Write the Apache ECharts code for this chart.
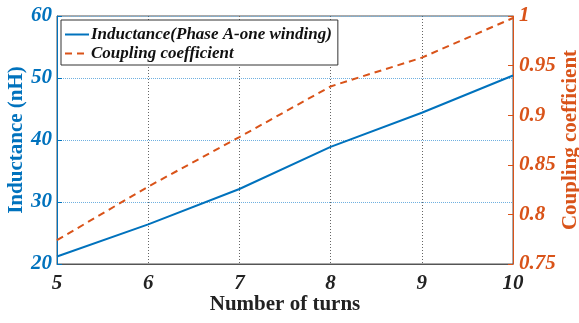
<!DOCTYPE html>
<html>
<head>
<meta charset="utf-8">
<script src="https://cdn.jsdelivr.net/npm/echarts@6/dist/echarts.min.js"></script>
<style>html,body{margin:0;padding:0;background:#fff}#c{width:579px;height:323px}</style>
</head>
<body>
<div id="c"></div>
<script>
const turns = [5, 6, 7, 8, 9, 10];
const inductance = [21.2, 26.4, 32.1, 38.9, 44.4, 50.4];
const coupling = [0.774, 0.828, 0.878, 0.929, 0.958, 0.998];
const seriesNames = ['Inductance(Phase A-one winding)', 'Coupling coefficient'];
const xName = 'Number of turns';
const yLeftName = 'Inductance (nH)';
const yRightName = 'Coupling coefficient';

const BLUE = '#0072BD', ORANGE = '#D95319';
const FONT = '"Liberation Serif", "Times New Roman", serif';

const chart = echarts.init(document.getElementById('c'));
chart.setOption({
  animation: false,
  textStyle: { fontFamily: FONT },
  grid: { left: 57, right: 66, top: 16, bottom: 59, show: true, borderColor: '#555', borderWidth: 1,
          backgroundColor: 'transparent', containLabel: false, outerBoundsMode: 'none' },
  legend: {
    orient: 'vertical', left: 61, top: 20,
    backgroundColor: '#fff', borderColor: '#333', borderWidth: 1,
    padding: [6, 6, 3, 3], itemGap: 2, itemWidth: 24, itemHeight: 14,
    itemStyle: { opacity: 0 },
    textStyle: { fontFamily: FONT, fontSize: 17, fontWeight: 'bold', fontStyle: 'italic', color: '#111', padding: [0, 0, 0, -3] },
    data: seriesNames
  },
  xAxis: {
    type: 'value', min: 5, max: 10, interval: 1,
    name: xName, nameLocation: 'middle', nameGap: 30, nameMoveOverlap: false,
    nameTextStyle: { fontFamily: FONT, fontSize: 21, fontWeight: 'bold', color: '#222' },
    axisLine: { show: true, lineStyle: { color: '#555', width: 1 } },
    axisTick: { show: false },
    axisLabel: { fontFamily: FONT, fontSize: 21, fontWeight: 'bold', fontStyle: 'italic', color: '#222', margin: 9 },
    splitLine: { show: true, lineStyle: { color: '#666', type: [1, 2], width: 1 } }
  },
  yAxis: [{
    type: 'value', min: 20, max: 60, interval: 10, position: 'left',
    name: yLeftName, nameLocation: 'middle', nameGap: 30, nameRotate: 90, nameMoveOverlap: false,
    nameTextStyle: { fontFamily: FONT, fontSize: 21, fontWeight: 'bold', color: BLUE },
    axisLine: { show: true, lineStyle: { color: BLUE, width: 1 } },
    axisTick: { show: true, inside: true, length: 5, lineStyle: { color: BLUE } },
    axisLabel: { fontFamily: FONT, fontSize: 21, fontWeight: 'bold', fontStyle: 'italic', color: BLUE, margin: 5 },
    splitLine: { show: true, lineStyle: { color: '#6FB0E0', type: [1, 1], width: 1 } }
  }, {
    type: 'value', min: 0.75, max: 1, interval: 0.05, position: 'right',
    name: yRightName, nameLocation: 'middle', nameGap: 47, nameRotate: 90, nameMoveOverlap: false,
    nameTextStyle: { fontFamily: FONT, fontSize: 21, fontWeight: 'bold', color: ORANGE },
    axisLine: { show: true, lineStyle: { color: ORANGE, width: 1 } },
    axisTick: { show: true, inside: true, length: 5, lineStyle: { color: ORANGE } },
    axisLabel: { fontFamily: FONT, fontSize: 21, fontWeight: 'bold', fontStyle: 'italic', color: ORANGE, margin: 6,
      formatter: v => String(Math.round(v * 100) / 100) },
    splitLine: { show: false }
  }],
  series: [{
    name: seriesNames[0], type: 'line', yAxisIndex: 0, symbol: 'none',
    data: turns.map((t, i) => [t, inductance[i]]),
    lineStyle: { color: BLUE, width: 2 }, itemStyle: { color: BLUE }, z: 3
  }, {
    name: seriesNames[1], type: 'line', yAxisIndex: 1, symbol: 'none',
    data: turns.map((t, i) => [t, coupling[i]]),
    lineStyle: { color: ORANGE, width: 2, type: [7, 5] }, itemStyle: { color: ORANGE }, z: 3
  }]
});
</script>
</body>
</html>
